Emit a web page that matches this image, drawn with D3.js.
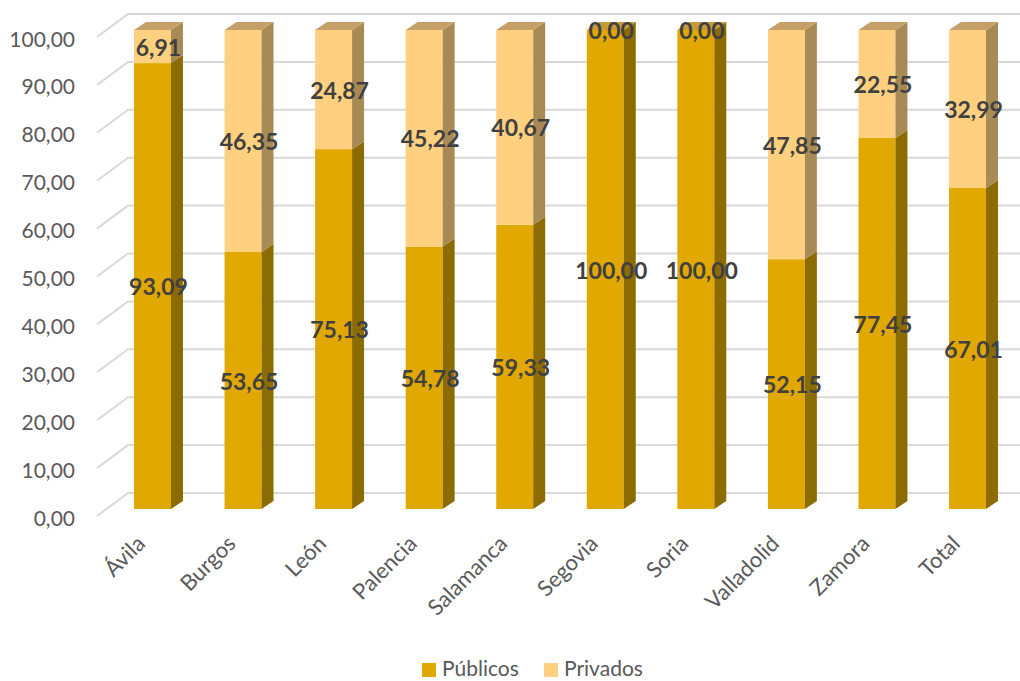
<!DOCTYPE html>
<html><head><meta charset="utf-8">
<script src="https://cdn.jsdelivr.net/npm/d3@7"></script>
<style>body{margin:0;background:#fff}svg{display:block}</style>
</head><body>
<svg id="c" width="1020" height="681"></svg>
<script>
const categories = ["Ávila","Burgos","León","Palencia","Salamanca","Segovia","Soria","Valladolid","Zamora","Total"];
const publicos = [93.09,53.65,75.13,54.78,59.33,100.00,100.00,52.15,77.45,67.01];
const privados = [6.91,46.35,24.87,45.22,40.67,0.00,0.00,47.85,22.55,32.99];
const yTicks = [0,10,20,30,40,50,60,70,80,90,100];
const seriesNames = ["Públicos","Privados"];

const C = {
  pubFront:"#E0A800", pubSide:"#8C6C00", pubTop:"#C49A3A",
  priFront:"#FFD07F", priSide:"#A88A55", priTop:"#C4A068"
};
const fmt = v => v.toFixed(2).replace(".", ",");
const svg = d3.select("#c");
const DX = 12, DY = -8;       // bar depth
const GX = 31, GY = -23;      // wall depth (front edge to back wall)

const x = d3.scaleBand().domain(categories).range([80.4, 1039.6]).paddingInner(0.592).paddingOuter(0.592);
const y = d3.scaleLinear().domain([0,100]).range([509,30]);

// gridlines (floor + back wall)
const grid = svg.append("g");
yTicks.forEach(v => {
  const yb = y(v) - 16;
  grid.append("polyline")
    .attr("points", `${97},${yb - GY} ${97+GX},${yb} 1020,${yb}`)
    .attr("fill","none").attr("stroke","#D9D9D9").attr("stroke-width",2);
});
// tick labels
svg.append("g").selectAll("text").data(yTicks).join("text")
  .attr("x", 75).attr("y", d => y(d) + 8)
  .attr("text-anchor","end").attr("dominant-baseline","central")
  .attr("font-family","Lato, 'Open Sans', sans-serif").attr("font-size",21)
  .attr("fill","#595959").text(d => fmt(d));

function seg(g, xl, yTop, yBot, front, side) {
  const w = x.bandwidth(), xr = xl + w;
  g.append("rect").attr("x", xl).attr("y", yTop).attr("width", w).attr("height", Math.max(0, yBot - yTop)).attr("fill", front);
  g.append("polygon").attr("points", `${xr},${yBot} ${xr+DX},${yBot+DY} ${xr+DX},${yTop+DY} ${xr},${yTop}`).attr("fill", side);
}
const bars = svg.append("g");
categories.forEach((c, i) => {
  const g = bars.append("g");
  const xl = x(c), w = x.bandwidth();
  const p = publicos[i], q = privados[i];
  seg(g, xl, y(p), y(0), C.pubFront, C.pubSide);
  if (q > 0) seg(g, xl, y(p + q), y(p), C.priFront, C.priSide);
  const yt = y(p + q);
  g.append("polygon").attr("points", `${xl},${yt} ${xl+DX},${yt+DY} ${xl+w+DX},${yt+DY} ${xl+w},${yt}`)
    .attr("fill", q > 0 ? C.priTop : C.pubTop);
});

// data labels
const lab = svg.append("g").attr("font-family","Lato, 'Open Sans', sans-serif").attr("font-size",23)
  .attr("font-weight","bold").attr("fill","#404040").attr("text-anchor","middle").attr("dominant-baseline","central");
categories.forEach((c, i) => {
  const cx = x(c) + x.bandwidth()/2 + 6;
  const p = publicos[i], q = privados[i];
  lab.append("text").attr("x", cx).attr("y", (y(0) + y(p)) / 2).text(fmt(p));
  lab.append("text").attr("x", cx).attr("y", (y(p) + y(p + q)) / 2).text(fmt(q));
});

// category labels
svg.append("g").selectAll("text").data(categories).join("text")
  .attr("transform", d => `translate(${x(d) + x.bandwidth()/2 - 6},${545}) rotate(-45)`)
  .attr("text-anchor","end")
  .attr("font-family","Lato, 'Open Sans', sans-serif").attr("font-size",22)
  .attr("fill","#595959").text(d => d);

// legend
const leg = svg.append("g");
const legX = [422, 544], legCol = [C.pubFront, C.priFront];
seriesNames.forEach((n, i) => {
  leg.append("rect").attr("x", legX[i]).attr("y", 663).attr("width", 14).attr("height", 14).attr("fill", legCol[i]);
  leg.append("text").attr("x", legX[i] + 20).attr("y", 676)
    .attr("font-family","Lato, 'Open Sans', sans-serif").attr("font-size",21).attr("fill","#595959").text(n);
});
</script>
</body></html>
